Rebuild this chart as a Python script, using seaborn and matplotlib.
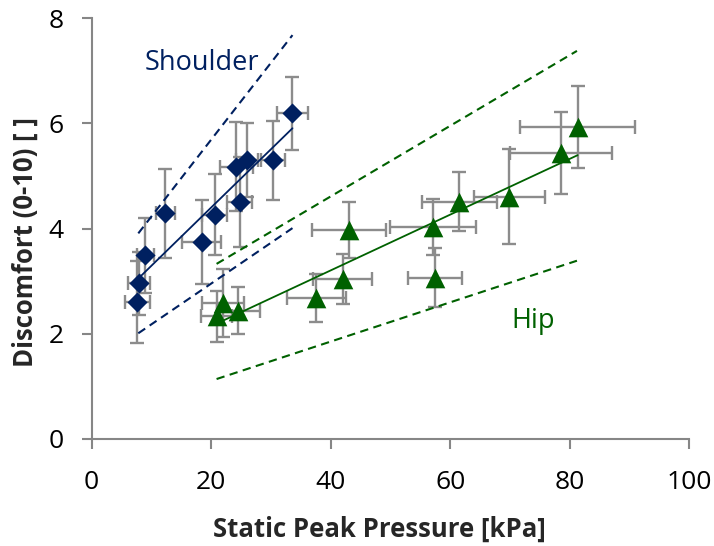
import numpy as np
import matplotlib
matplotlib.use('Agg')
import matplotlib.pyplot as plt
import seaborn as sns

# 肩部数据 (Shoulder)
shoulder_x = [7.6, 7.9, 9.0, 12.3, 18.4, 20.6, 24.8, 24.2, 26.0, 30.3, 33.6]
shoulder_y = [2.61, 2.96, 3.49, 4.29, 3.75, 4.26, 4.51, 5.18, 5.30, 5.30, 6.19]
shoulder_xerr = [2.1, 1.9, 1.4, 1.6, 3.3, 2.1, 2.1, 2.8, 1.8, 2.0, 2.6]
shoulder_yerr = [0.78, 0.60, 0.72, 0.84, 0.80, 0.77, 0.86, 0.85, 0.70, 0.75, 0.69]

# 髋部数据 (Hip)
hip_x = [20.9, 22.0, 24.5, 37.6, 42.0, 43.1, 57.5, 57.1, 61.5, 69.9, 78.5, 81.3]
hip_y = [2.33, 2.58, 2.44, 2.68, 3.04, 3.97, 3.07, 4.03, 4.51, 4.61, 5.43, 5.93]
hip_xerr = [2.6, 3.5, 3.6, 4.9, 4.9, 6.2, 4.5, 7.2, 6.3, 6.0, 8.5, 9.6]
hip_yerr = [0.49, 0.65, 0.45, 0.45, 0.48, 0.53, 0.56, 0.53, 0.56, 0.91, 0.78, 0.78]

# 虚线边界 (dashed bounds)
shoulder_band_x = [7.8, 33.6]
shoulder_band_upper = [3.91, 7.68]
shoulder_band_lower = [2.01, 4.01]
hip_band_x = [20.9, 81.2]
hip_band_upper = [3.33, 7.38]
hip_band_lower = [1.14, 3.39]

navy = '#002060'
green = '#006100'
bar_gray = '#8c8c8c'
axis_gray = '#868686'

sns.set_theme(style='white')
plt.rcParams['font.family'] = ['Open Sans', 'DejaVu Sans']

fig = plt.figure(figsize=(7.14, 5.46), dpi=100)
ax = fig.add_axes([0.1284, 0.196, 0.837, 0.7705])

# 误差线
for xs, ys, xe, ye in [(shoulder_x, shoulder_y, shoulder_xerr, shoulder_yerr),
                       (hip_x, hip_y, hip_xerr, hip_yerr)]:
    ax.errorbar(xs, ys, xerr=xe, yerr=ye, fmt='none', ecolor=bar_gray,
                elinewidth=1.7, capsize=4.7, capthick=1.7, zorder=2)

# 散点
sns.scatterplot(x=shoulder_x, y=shoulder_y, marker='D', s=105, color=navy,
                linewidth=0, ax=ax, zorder=3)
sns.scatterplot(x=hip_x, y=hip_y, marker='^', s=200, color=green,
                linewidth=0, ax=ax, zorder=3)

# 趋势线
sns.regplot(x=shoulder_x, y=shoulder_y, scatter=False, ci=None, truncate=True,
            color=navy, line_kws={'lw': 1.3, 'zorder': 4}, ax=ax)
sns.regplot(x=hip_x, y=hip_y, scatter=False, ci=None, truncate=True,
            color=green, line_kws={'lw': 1.3, 'zorder': 4}, ax=ax)

# 虚线
for bx, by, c in [(shoulder_band_x, shoulder_band_upper, navy),
                  (shoulder_band_x, shoulder_band_lower, navy),
                  (hip_band_x, hip_band_upper, green),
                  (hip_band_x, hip_band_lower, green)]:
    ax.plot(bx, by, color=c, lw=1.5, dashes=(4, 2.6), zorder=4)

ax.text(8.9, 7.02, 'Shoulder', color=navy, fontsize=19.5, ha='left', va='baseline')
ax.text(70.3, 2.11, 'Hip', color=green, fontsize=19.5, ha='left', va='baseline')

ax.set_xlim(0, 100)
ax.set_ylim(0, 8)
ax.set_xticks(range(0, 101, 20))
ax.set_yticks(range(0, 9, 2))

for side in ['top', 'right']:
    ax.spines[side].set_visible(False)
for side in ['left', 'bottom']:
    ax.spines[side].set_color(axis_gray)
    ax.spines[side].set_linewidth(1.5)

ax.tick_params(axis='both', direction='out', length=7, width=1.5,
               color=axis_gray, labelsize=19, labelcolor='black')
ax.tick_params(axis='x', pad=15, bottom=True)
ax.tick_params(axis='y', pad=13, left=True)

ax.set_xlabel('Static Peak Pressure [kPa]', fontsize=18.5, fontweight='bold')
ax.set_ylabel('Discomfort (0-10) [ ]', fontsize=18.5, fontweight='bold')
ax.xaxis.set_label_coords(0.482, -0.214)
ax.xaxis.label.set_verticalalignment('center')
ax.yaxis.set_label_coords(-0.1116, 0.468)
ax.yaxis.label.set_verticalalignment('center')

fig.savefig('out.png', dpi=100)
